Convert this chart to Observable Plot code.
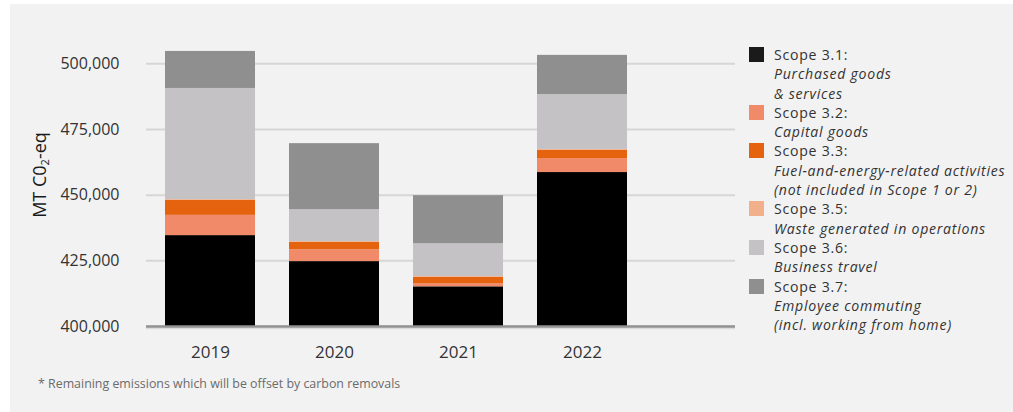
<!DOCTYPE html>
<html>
<head>
<meta charset="utf-8">
<script src="https://cdn.jsdelivr.net/npm/d3@7"></script>
<script src="https://cdn.jsdelivr.net/npm/@observablehq/plot@0.6"></script>
<style>
  html, body { margin: 0; padding: 0; background: #ffffff; }
  body { width: 1013px; height: 412px; position: relative; overflow: hidden; font-family: "Open Sans", sans-serif; }
  #panel { position: absolute; left: 10px; top: 4px; right: 0; bottom: 0; background: #f2f2f2; }
  #chart { position: absolute; left: 0; top: 0; }
  #ytitle { position: absolute; left: 39px; top: 175px; transform: translate(-50%, -50%) rotate(-90deg); font-size: 18px; color: #1a1a1a; white-space: nowrap; }
  #ytitle sub { font-size: 11px; vertical-align: -3px; line-height: 0; }
  #legend { position: absolute; left: 749px; top: 45px; font-size: 14.1px; line-height: 19.3px; letter-spacing: 0.75px; color: #333; }
  .item { display: flex; align-items: flex-start; }
  .sw { width: 15px; height: 15px; margin-top: 2px; margin-right: 10px; flex: none; }
  .desc { font-style: italic; }
  #note { position: absolute; left: 38px; top: 375px; font-size: 12.4px; color: #6b6b6b; }
</style>
</head>
<body>
<div id="panel"></div>
<div id="chart"></div>
<div id="ytitle">MT C0<sub>2</sub>-eq</div>
<div id="legend"></div>
<div id="note">* Remaining emissions which will be offset by carbon removals</div>
<script>
const years = ["2019", "2020", "2021", "2022"];
const scopes = ["Scope 3.1", "Scope 3.2", "Scope 3.3", "Scope 3.5", "Scope 3.6", "Scope 3.7"];
const scopeDescs = [
  "Purchased goods<br>& services",
  "Capital goods",
  "Fuel-and-energy-related activities<br>(not included in Scope 1 or 2)",
  "Waste generated in operations",
  "Business travel",
  "Employee commuting<br>(incl. working from home)"
];
const colors = ["#000000", "#f08a68", "#e5620f", "#f2b08a", "#c4c2c4", "#8f8f8f"];
const s31 = [434600, 424700, 415100, 458600];
const s32 = [7700, 4500, 1200, 5300];
const s33 = [5700, 2800, 2400, 3200];
const s35 = [300, 300, 300, 300];
const s36 = [42300, 12200, 12500, 20900];
const s37 = [14100, 25100, 18300, 14900];
const yTicks = [400000, 425000, 450000, 475000, 500000];

const series = [s31, s32, s33, s35, s36, s37];
const data = [];
years.forEach((yr, i) => {
  scopes.forEach((sc, j) => data.push({year: yr, scope: sc, value: series[j][i]}));
});

const chart = Plot.plot({
  width: 1013,
  height: 370,
  marginLeft: 146,
  marginRight: 278,
  marginTop: 37,
  marginBottom: 44,
  style: { background: "transparent", fontFamily: "Open Sans, sans-serif", color: "#333" },
  x: { domain: years, paddingInner: 0.2742, paddingOuter: 0.512, align: 0.15, label: null },
  y: { domain: [400000, 510000], label: null },
  color: { domain: scopes, range: colors },
  marks: [
    Plot.gridY(yTicks, { stroke: "#d6d6d6", strokeWidth: 2, strokeOpacity: 1 }),
    Plot.barY(data, { x: "year", y: "value", fill: "scope", clip: true }),
    Plot.ruleY([400000], { stroke: "#dcdcdc", strokeWidth: 1.5, dy: 2 }),
    Plot.ruleY([400000], { stroke: "#929292", strokeWidth: 2.5 }),
    Plot.axisY(yTicks, { tickSize: 0, tickPadding: 27, tickFormat: d3.format(","), fontSize: 16, fill: "#333", label: null }),
    Plot.axisX({ tickSize: 0, tickPadding: 19, fontSize: 17, fill: "#333", label: null })
  ]
});
document.getElementById("chart").appendChild(chart);

const legend = document.getElementById("legend");
scopes.forEach((sc, j) => {
  const item = document.createElement("div");
  item.className = "item";
  item.innerHTML = `<div class="sw" style="background:${colors[j] === "#000000" ? "#1a1a1a" : colors[j]}"></div><div>${sc}:<br><span class="desc">${scopeDescs[j]}</span></div>`;
  legend.appendChild(item);
});
</script>
</body>
</html>
